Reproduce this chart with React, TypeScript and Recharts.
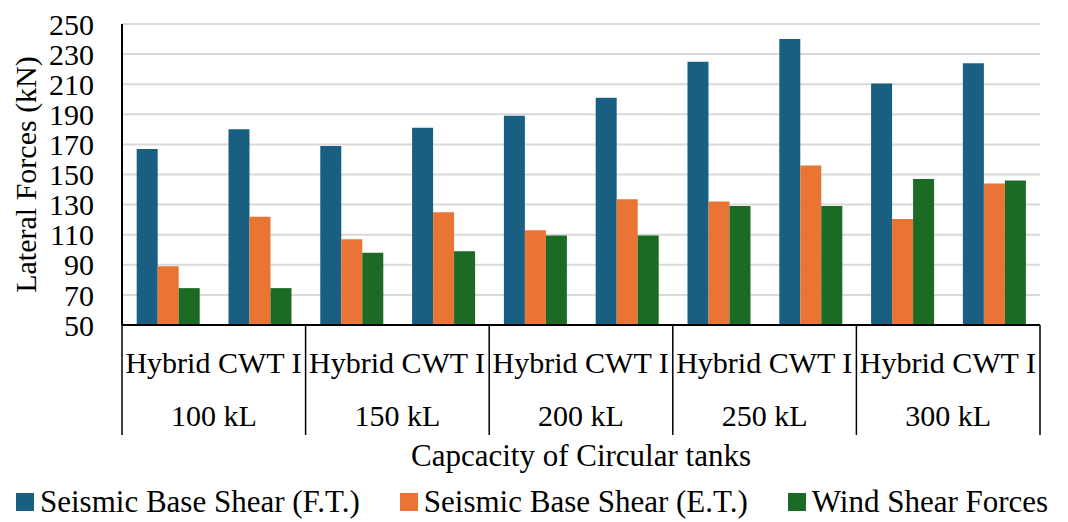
import React from 'react';
import { BarChart, Bar, XAxis, YAxis, CartesianGrid, Legend, Label } from 'recharts';

const capacities = ['100 kL', '150 kL', '200 kL', '250 kL', '300 kL'];
const tankTypes = ['Hybrid', 'CWT I'];

const seismicFT = [167, 180, 169, 181, 189, 201, 225, 240, 210.5, 224];
const seismicET = [89, 122, 107, 125, 113, 133.5, 132, 156, 120.5, 144];
const windShear = [74.5, 74.5, 98, 99, 109.5, 109.5, 129, 129, 147, 146];

const yTicks = [50, 70, 90, 110, 130, 150, 170, 190, 210, 230, 250];

const SERIES = [
    { key: 'ft', name: 'Seismic Base Shear (F.T.)', color: '#185f82' },
    { key: 'et', name: 'Seismic Base Shear (E.T.)', color: '#ea7434' },
    { key: 'wind', name: 'Wind Shear Forces', color: '#1b6b24' },
];

const data = seismicFT.map((v, i) => ({
    type: tankTypes[i % 2],
    capacity: capacities[Math.floor(i / 2)],
    ft: v,
    et: seismicET[i],
    wind: windShear[i],
}));

const FONT = "'Liberation Serif', 'Times New Roman', serif";

// two-row category axis: tank type on top, capacity below, with divider lines
const GroupedTick = (props: any) => {
    const { x, y, payload, index } = props;
    const i = payload?.index ?? index;
    const half = payload?.offset || 45.9;
    const last = i === data.length - 1;
    return (
        <g>
            <text x={x} y={y + 48} textAnchor="middle" fontSize={30} fill="#000">
                {payload.value}
            </text>
            {i % 2 === 0 && (
                <>
                    <line x1={x - half} x2={x - half} y1={y} y2={y + 110} stroke="#000" strokeWidth={1.5} />
                    <text x={x + half} y={y + 101} textAnchor="middle" fontSize={30} fill="#000">
                        {data[i].capacity}
                    </text>
                </>
            )}
            {last && <line x1={x + half} x2={x + half} y1={y} y2={y + 110} stroke="#000" strokeWidth={1.5} />}
        </g>
    );
};

const LegendContent = () => (
    <div style={{ width: 1068, height: 44, boxSizing: 'border-box', paddingTop: 10, paddingLeft: 16, display: 'flex', alignItems: 'center', gap: 40, whiteSpace: 'nowrap' }}>
        {SERIES.map((s) => (
            <div key={s.key} style={{ display: 'flex', alignItems: 'center', gap: 6, flexShrink: 0 }}>
                <span style={{ width: 18, height: 18, background: s.color, display: 'inline-block' }} />
                <span style={{ fontSize: 31, color: '#000', fontFamily: FONT, lineHeight: 1.1 }}>{s.name}</span>
            </div>
        ))}
    </div>
);

export default function App() {
    return (
        <div style={{ position: 'absolute', left: 0, top: 0, width: 1068, height: 522, background: '#fff', fontFamily: FONT }}>
            <BarChart
                width={1068}
                height={522}
                data={data}
                margin={{ top: 24, right: 28, bottom: 3, left: 0 }}
                barCategoryGap="16%"
                barGap={0}
            >
                <CartesianGrid vertical={false} stroke="#d9d9d9" strokeWidth={2} />
                <XAxis
                    dataKey="type"
                    height={150}
                    tickSize={0}
                    tickMargin={0}
                    interval={0}
                    tick={<GroupedTick />}
                    axisLine={{ stroke: '#000', strokeWidth: 2 }}
                    tickLine={false}
                >
                    <Label value="Capcacity of Circular tanks" position="insideBottom" offset={9} style={{ fontSize: 31, fill: '#000' }} />
                </XAxis>
                <YAxis
                    domain={[50, 250]}
                    ticks={yTicks}
                    width={122}
                    tickSize={0}
                    tickMargin={28}
                    tickLine={false}
                    interval={0}
                    axisLine={{ stroke: '#000', strokeWidth: 2 }}
                    tick={{ fontSize: 30, fill: '#000' }}
                >
                    <Label value="Lateral Forces (kN)" angle={-90} position="insideLeft" offset={25} style={{ fontSize: 30, fill: '#000', textAnchor: 'middle' }} />
                </YAxis>
                <Legend
                    verticalAlign="bottom"
                    wrapperStyle={{ left: 0, width: 1068 }}
                    content={<LegendContent />}
                />
                {SERIES.map((s) => (
                    <Bar key={s.key} dataKey={s.key} name={s.name} fill={s.color} isAnimationActive={false} />
                ))}
            </BarChart>
        </div>
    );
}
